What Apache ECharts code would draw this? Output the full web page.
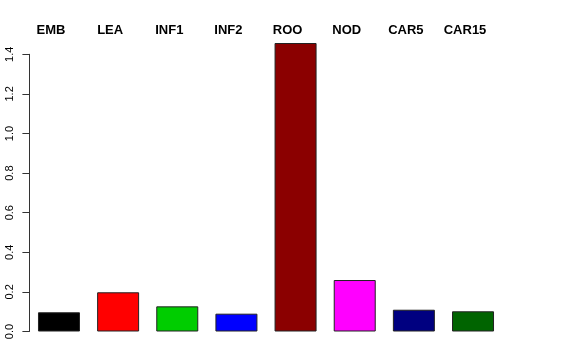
<!DOCTYPE html>
<html>
<head>
<meta charset="utf-8">
<script src="https://cdn.jsdelivr.net/npm/echarts@6/dist/echarts.min.js"></script>
<style>html,body{margin:0;padding:0;background:#fff}#c{width:576px;height:360px}</style>
</head>
<body>
<div id="c"></div>
<script>
var categories = ['EMB','LEA','INF1','INF2','ROO','NOD','CAR5','CAR15'];
var values = [0.097, 0.198, 0.127, 0.090, 1.457, 0.260, 0.110, 0.102];
var barColors = ['#000000','#FF0000','#00CD00','#0000FF','#8B0000','#FF00FF','#000080','#006400'];
var yTicks = [0, 1.4, 0.2];

var chart = echarts.init(document.getElementById('c'), null, {renderer:'canvas'});
chart.setOption({
  animation: false,
  backgroundColor: '#ffffff',
  grid: {left: 29.4, right: 73.4, top: 54.3, bottom: 28.5, containLabel: false},
  xAxis: {
    type: 'category',
    data: categories,
    position: 'top',
    axisLine: {show: false},
    axisTick: {show: false},
    axisLabel: {
      interval: 0,
      margin: 17,
      fontFamily: 'Liberation Sans',
      fontWeight: 'bold',
      fontSize: 13,
      color: '#000',
      padding: [0, 16, 0, 0]
    }
  },
  yAxis: {
    type: 'value',
    min: yTicks[0], max: yTicks[1], interval: yTicks[2],
    splitLine: {show: false},
    axisLine: {show: true, lineStyle: {color: '#333', width: 1}},
    axisTick: {show: true, length: 7, lineStyle: {color: '#333'}},
    axisLabel: {
      rotate: 90,
      margin: 14,
      fontFamily: 'Liberation Sans',
      fontSize: 11,
      color: '#000',
      formatter: function (v) { return v.toFixed(1); }
    }
  },
  series: [{
    type: 'bar',
    clip: false,
    barWidth: '71%',
    data: values.map(function (v, i) {
      return {value: v, itemStyle: {color: barColors[i], borderColor: '#222', borderWidth: 1}};
    })
  }]
});
</script>
</body>
</html>
